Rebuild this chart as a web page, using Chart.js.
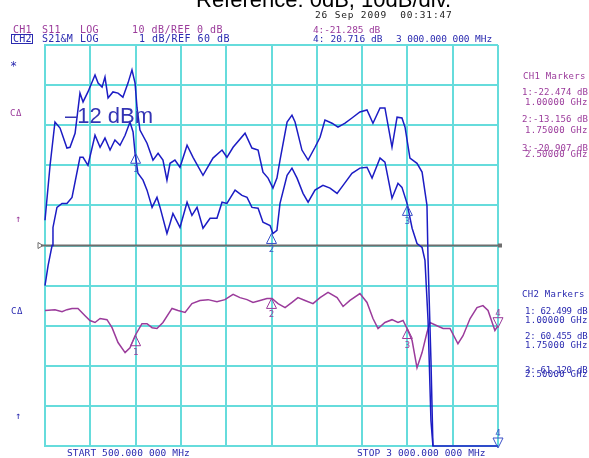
<!DOCTYPE html>
<html>
<head>
<meta charset="utf-8">
<script src="https://cdn.jsdelivr.net/npm/chart.js@4"></script>
<style>
html, body { margin: 0; padding: 0; background: #fff; }
canvas { display: block; }
</style>
</head>
<body>
<canvas id="myChart" width="589" height="458"></canvas>
<script>
// frequencies in MHz, levels in grid divisions (0 = bottom line, 10 = top line)

var freqA = [500,528,555,583,621,638,666,693,710,737,776,793,815,831,848,875,903,930,958,980,
  997,1008,1024,1063,1096,1124,1151,1173,1190,1217,1245,1284,1317,1372,1427,1477,1504,1538,1604,1642,
  1676,1703,1731,1758,1780,1797,1836,1863,1880,1918,1952,1990,2018,2045,2084,2117,2156,2194,2238,2277,
  2310,2349,2376,2415,2443,2470,2487,2514,2553,2581,2608,2614,2630,2641,3000];
var traceA = [5.63,7.0,8.08,7.93,7.43,7.45,7.8,8.8,8.58,8.83,9.25,9.05,8.95,9.2,8.68,8.83,8.8,8.7,9.05,9.38,
  9.05,8.43,7.88,7.55,7.13,7.3,7.13,6.63,7.05,7.13,6.95,7.5,7.2,6.75,7.18,7.38,7.2,7.45,7.8,7.43,
  7.38,6.83,6.68,6.43,6.68,7.13,8.08,8.25,8.08,7.38,7.13,7.45,7.7,8.13,8.05,7.95,8.05,8.18,8.33,8.38,
  8.05,8.43,8.43,7.45,8.2,8.18,7.95,7.18,7.05,6.83,6.0,4.63,2.13,0,0];

var freqB = [500,517,539,544,566,594,621,649,693,710,737,776,804,831,859,886,914,942,969,986,
  997,1013,1041,1063,1091,1118,1135,1173,1190,1206,1245,1284,1311,1339,1372,1411,1449,1477,1504,1549,
  1587,1615,1642,1676,1703,1742,1758,1780,1797,1836,1863,1891,1924,1952,1990,2034,2073,2112,2145,2194,
  2238,2277,2305,2349,2376,2415,2448,2470,2498,2526,2553,2581,2597,2614,2630,2641];
var traceB = [4.0,4.5,5.0,5.45,5.95,6.05,6.05,6.2,7.2,7.2,7.0,7.75,7.45,7.68,7.38,7.63,7.5,7.75,8.08,7.83,
  7.3,6.8,6.63,6.38,5.95,6.2,5.95,5.3,5.55,5.8,5.45,6.08,5.75,5.95,5.43,5.68,5.68,6.08,6.05,6.38,
  6.25,6.2,5.95,5.93,5.58,5.5,5.3,5.38,6.05,6.75,6.93,6.68,6.3,6.08,6.38,6.5,6.43,6.3,6.5,6.8,
  6.93,6.95,6.68,7.18,7.08,6.18,6.55,6.45,6.05,5.43,5.05,4.95,4.63,3.13,0.63,0];

var freqC = [500,555,594,621,649,682,721,748,776,804,842,870,903,942,969,997,1035,1063,1091,1118,
  1151,1201,1234,1273,1311,1355,1400,1449,1493,1538,1576,1615,1648,1687,1725,1753,1786,1825,1863,1896,
  1935,1979,2018,2062,2112,2145,2183,2238,2277,2310,2338,2376,2415,2448,2476,2498,2526,2553,2581,2608,
  2625,2663,2697,2735,2779,2807,2846,2884,2917,2945,2983,3000];
var traceC = [3.38,3.4,3.35,3.4,3.43,3.43,3.25,3.13,3.08,3.18,3.15,2.95,2.58,2.33,2.45,2.75,3.05,3.05,2.95,2.93,
  3.08,3.43,3.38,3.33,3.55,3.63,3.65,3.6,3.65,3.78,3.7,3.65,3.58,3.63,3.68,3.68,3.55,3.45,3.58,3.7,
  3.63,3.55,3.7,3.83,3.7,3.48,3.63,3.8,3.58,3.18,2.93,3.08,3.15,3.08,3.13,2.93,2.63,1.95,2.33,2.83,
  3.08,3.0,2.93,2.93,2.55,2.75,3.18,3.45,3.5,3.38,2.88,3.0];

var markerFreqs = [1000, 1750, 2500, 3000];
var markersCh1 = [2.75, 3.68, 2.93, 3.0];
var markersCh2 = [7.3, 5.3, 6.0, 0];

var refLevel = 5;

var blue = '#1c1cc4';
var purple = '#9b3b9b';
var textBlue = '#2a2ab0';
var gridColor = '#66dcdc';

function pts(f, v) {
  return f.map(function (x, i) { return { x: x, y: v[i] }; });
}

function mono(c, s, x, y, pitch, color, size) {
  c.font = (size || 10) + 'px "DejaVu Sans Mono"';
  c.fillStyle = color;
  c.textAlign = 'left';
  c.textBaseline = 'alphabetic';
  for (var i = 0; i < s.length; i++) {
    c.fillText(s[i], x + i * pitch, y);
  }
}

// gray reference line
var refLinePlugin = {
  id: 'refLine',
  beforeDatasetsDraw: function (chart) {
    var c = chart.ctx;
    var y = chart.scales.y.getPixelForValue(refLevel);
    var a = chart.chartArea;
    c.save();
    c.strokeStyle = '#6e6e6e';
    c.lineWidth = 2;
    c.beginPath();
    c.moveTo(a.left - 4, y);
    c.lineTo(a.right + 3, y);
    c.stroke();
    c.lineWidth = 1;
    c.beginPath();
    c.moveTo(a.left - 7, y - 3);
    c.lineTo(a.left - 2, y);
    c.lineTo(a.left - 7, y + 3);
    c.closePath();
    c.stroke();
    c.fillStyle = '#6e6e6e';
    c.fillRect(a.right, y - 2, 4, 4);
    c.restore();
  }
};

// marker triangles with numbers
var markerPlugin = {
  id: 'markers',
  afterDatasetsDraw: function (chart) {
    var c = chart.ctx;
    chart.data.datasets.forEach(function (ds, di) {
      if (!ds.isMarker) return;
      var meta = chart.getDatasetMeta(di);
      meta.data.forEach(function (p, i) {
        var x = p.x, y = p.y;
        c.save();
        c.strokeStyle = ds.markColor;
        c.fillStyle = ds.markColor;
        c.lineWidth = 1;
        c.font = '9px "DejaVu Sans Mono"';
        c.textAlign = 'center';
        c.beginPath();
        if (i === 3) {
          c.moveTo(x, y + 2);
          c.lineTo(x - 5, y - 8);
          c.lineTo(x + 5, y - 8);
          c.closePath();
          c.stroke();
          c.fillText(String(i + 1), x, y - 10);
        } else {
          c.moveTo(x, y);
          c.lineTo(x - 5, y + 10);
          c.lineTo(x + 5, y + 10);
          c.closePath();
          c.stroke();
          c.fillText(String(i + 1), x, y + 19);
        }
        c.restore();
      });
    });
  }
};

// analyzer annotations
var textPlugin = {
  id: 'texts',
  afterDraw: function (chart) {
    var c = chart.ctx;
    c.save();
    c.font = '22px "Liberation Sans"';
    c.fillStyle = '#000';
    c.fillText('Reference: 0dB, 10dB/div.', 196, 7);

    mono(c, '26 Sep 2009  00:31:47', 315, 18, 6.55, '#222', 9.5);

    mono(c, 'CH1', 13, 33, 6.2, purple);
    mono(c, 'S11', 42, 33, 6.2, purple);
    mono(c, 'LOG', 80, 33, 6.2, purple);
    mono(c, '10 dB/REF 0 dB', 132, 33, 6.5, purple);
    mono(c, 'CH2', 13, 42, 6.2, textBlue);
    mono(c, 'S21&M', 42, 42, 6.2, textBlue);
    mono(c, 'LOG', 80, 42, 6.2, textBlue);
    mono(c, '1 dB/REF 60 dB', 139, 42, 6.5, textBlue);
    c.strokeStyle = textBlue;
    c.lineWidth = 1;
    c.strokeRect(11.5, 34.5, 21, 9);

    mono(c, '4:-21.285 dB', 313, 33, 5.6, purple, 9.5);
    mono(c, '4: 20.716 dB', 313, 42, 5.8, textBlue, 9.5);
    mono(c, '3 000.000 000 MHz', 396, 42, 5.65, textBlue, 9.5);

    mono(c, 'CH1 Markers', 523, 79, 5.7, purple, 9);
    mono(c, '1:-22.474 dB', 522, 95, 5.5, purple, 9);
    mono(c, '1.00000 GHz', 525, 105, 5.7, purple, 9);
    mono(c, '2:-13.156 dB', 522, 122, 5.5, purple, 9);
    mono(c, '1.75000 GHz', 525, 133, 5.7, purple, 9);
    mono(c, '3:-20.907 dB', 522, 151, 5.5, purple, 9);
    mono(c, '2.50000 GHz', 525, 157, 5.7, purple, 9);

    mono(c, 'CH2 Markers', 522, 297, 5.7, textBlue, 9);
    mono(c, '1: 62.499 dB', 525, 314, 5.2, textBlue, 9);
    mono(c, '1.00000 GHz', 525, 323, 5.7, textBlue, 9);
    mono(c, '2: 60.455 dB', 525, 339, 5.2, textBlue, 9);
    mono(c, '1.75000 GHz', 525, 348, 5.7, textBlue, 9);
    mono(c, '3: 61.120 dB', 525, 373, 5.2, textBlue, 9);
    mono(c, '2.50000 GHz', 525, 377, 5.7, textBlue, 9);

    mono(c, 'START 500.000 000 MHz', 67, 456, 5.85, textBlue, 9.5);
    mono(c, 'STOP 3 000.000 000 MHz', 357, 456, 5.85, textBlue, 9.5);

    mono(c, '*', 10, 70, 6, textBlue, 12);
    mono(c, 'C\u0394', 10, 116, 6, purple, 9);
    mono(c, '\u2191', 15, 222, 6, purple, 10);
    mono(c, 'C\u0394', 11, 314, 6, textBlue, 9);
    mono(c, '\u2191', 15, 419, 6, textBlue, 10);

    c.font = '22px "Liberation Sans"';
    c.fillStyle = '#3434b4';
    c.textAlign = 'left';
    c.fillText('\u201312 dBm', 65, 123);
    c.restore();
  }
};

var ctx = document.getElementById("myChart").getContext('2d');
var myChart = new Chart(ctx, {
  type: 'line',
  data: {
    datasets: [{
      label: 'S21 data',
      data: pts(freqA, traceA),
      borderColor: blue,
      borderWidth: 1.5,
      pointRadius: 0,
      clip: false
    }, {
      label: 'S21 memory',
      data: pts(freqB, traceB),
      borderColor: blue,
      borderWidth: 1.5,
      pointRadius: 0,
      clip: false
    }, {
      label: 'S11',
      data: pts(freqC, traceC),
      borderColor: purple,
      borderWidth: 1.5,
      pointRadius: 0
    }, {
      label: 'CH1 markers',
      data: pts(markerFreqs, markersCh1),
      showLine: false,
      pointRadius: 0,
      isMarker: true,
      markColor: purple
    }, {
      label: 'CH2 markers',
      data: pts(markerFreqs, markersCh2),
      showLine: false,
      pointRadius: 0,
      isMarker: true,
      markColor: '#3c50c8'
    }]
  },
  options: {
    responsive: false,
    animation: false,
    devicePixelRatio: 1,
    layout: {
      padding: { left: 45, top: 45, right: 91, bottom: 12 }
    },
    elements: {
      line: { tension: 0 }
    },
    plugins: {
      legend: { display: false },
      tooltip: { enabled: false }
    },
    scales: {
      x: {
        type: 'linear',
        min: 500,
        max: 3000,
        ticks: { display: false, stepSize: 250 },
        grid: { color: gridColor, lineWidth: 2, drawTicks: false },
        border: { color: gridColor, width: 2 }
      },
      y: {
        min: 0,
        max: 10,
        ticks: { display: false, stepSize: 1 },
        grid: { color: gridColor, lineWidth: 2, drawTicks: false },
        border: { color: gridColor, width: 2 }
      }
    }
  },
  plugins: [refLinePlugin, markerPlugin, textPlugin]
});
</script>
</body>
</html>
